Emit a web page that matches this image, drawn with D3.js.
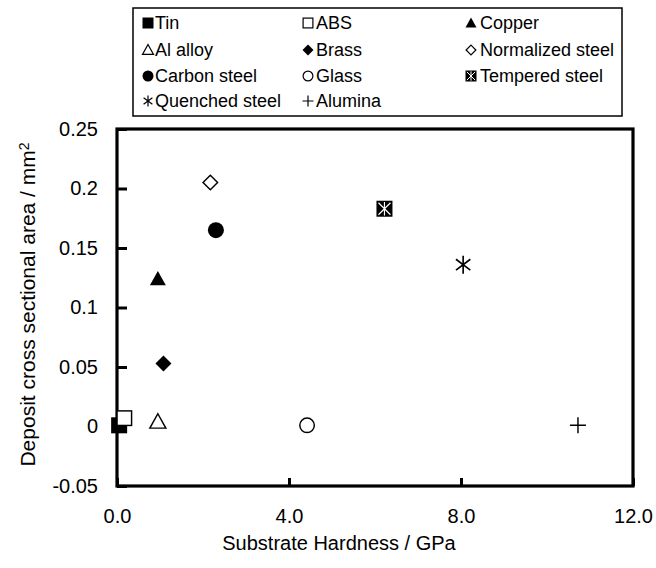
<!DOCTYPE html>
<html>
<head>
<meta charset="utf-8">
<script src="https://cdn.jsdelivr.net/npm/d3@7"></script>
<style>
  html, body { margin: 0; padding: 0; background: #fff; }
  svg { display: block; font-family: "Liberation Sans", Arial, sans-serif; }
</style>
</head>
<body>
<svg id="chart" width="656" height="568"></svg>
<script>
// ---- data ----
const materials = ["Tin", "ABS", "Copper", "Al alloy", "Brass", "Normalized steel",
                   "Carbon steel", "Glass", "Tempered steel", "Quenched steel", "Alumina"];
const hardness  = [0.05, 0.17, 0.95, 0.95, 1.08, 2.17, 2.30, 4.42, 6.22, 8.05, 10.72];
const depositArea = [0.001, 0.007, 0.124, 0.004, 0.053, 0.205, 0.165, 0.001, 0.183, 0.136, 0.001];
const markerKinds = ["squareFill", "squareOpen", "triFill", "triOpen", "diamondFill", "diamondOpen",
                     "circleFill", "circleOpen", "tempered", "asterisk", "plus"];
const legendOrder = ["Tin", "ABS", "Copper", "Al alloy", "Brass", "Normalized steel",
                     "Carbon steel", "Glass", "Tempered steel", "Quenched steel", "Alumina"];
const xTickValues = [0, 4, 8, 12];
const xTickLabels = ["0.0", "4.0", "8.0", "12.0"];
const yTickValues = [-0.05, 0, 0.05, 0.1, 0.15, 0.2, 0.25];
const yTickLabels = ["-0.05", "0", "0.05", "0.1", "0.15", "0.2", "0.25"];
const xTitle = "Substrate Hardness / GPa";

// ---- layout ----
const svg = d3.select("#chart");
const L = 117, R = 633, T = 129, B = 486;
const x = d3.scaleLinear().domain([0, 12]).range([L, R]);
const y = d3.scaleLinear().domain([-0.05, 0.25]).range([B, T]);

// marker drawing
function drawMarker(g, kind, s) {
  const h = s / 2;
  const sw = Math.max(1.2, s / 11);
  switch (kind) {
    case "squareFill":
      g.append("rect").attr("x", -h).attr("y", -h).attr("width", s).attr("height", s).attr("fill", "#000"); break;
    case "squareOpen":
      g.append("rect").attr("x", -h + sw/2).attr("y", -h + sw/2).attr("width", s - sw).attr("height", s - sw)
        .attr("fill", "#fff").attr("stroke", "#000").attr("stroke-width", sw); break;
    case "triFill":
      g.append("path").attr("d", `M0,${-h}L${h},${h*0.8}L${-h},${h*0.8}Z`).attr("fill", "#000"); break;
    case "triOpen":
      g.append("path").attr("d", `M0,${-h}L${h},${h*0.8}L${-h},${h*0.8}Z`).attr("fill", "#fff")
        .attr("stroke", "#000").attr("stroke-width", sw); break;
    case "diamondFill":
      g.append("path").attr("d", `M0,${-h}L${h},0L0,${h}L${-h},0Z`).attr("fill", "#000"); break;
    case "diamondOpen":
      g.append("path").attr("d", `M0,${-h+sw/2}L${h-sw/2},0L0,${h-sw/2}L${-h+sw/2},0Z`).attr("fill", "#fff")
        .attr("stroke", "#000").attr("stroke-width", sw); break;
    case "circleFill":
      g.append("circle").attr("r", h).attr("fill", "#000"); break;
    case "circleOpen":
      g.append("circle").attr("r", h - sw/2).attr("fill", "#fff").attr("stroke", "#000").attr("stroke-width", sw); break;
    case "tempered":
      g.append("rect").attr("x", -h).attr("y", -h).attr("width", s).attr("height", s).attr("fill", "#000");
      g.append("path").attr("d", `M${-h*0.75},${-h*0.75}L${h*0.75},${h*0.75}M${h*0.75},${-h*0.75}L${-h*0.75},${h*0.75}M0,${-h*0.85}L0,${h*0.85}`)
        .attr("stroke", "#fff").attr("stroke-width", Math.max(1, s / 14)); break;
    case "asterisk":
      g.append("path").attr("d", `M0,${-h}L0,${h}M${-h*0.8},${-h*0.6}L${h*0.8},${h*0.6}M${h*0.8},${-h*0.6}L${-h*0.8},${h*0.6}`)
        .attr("stroke", "#000").attr("stroke-width", sw).attr("fill", "none"); break;
    case "plus":
      g.append("path").attr("d", `M0,${-h}L0,${h}M${-h},0L${h},0`)
        .attr("stroke", "#000").attr("stroke-width", sw).attr("fill", "none"); break;
  }
}

// ---- legend ----
const legBox = { x: 133, y: 8, w: 489, h: 108 };
svg.append("rect").attr("x", legBox.x).attr("y", legBox.y).attr("width", legBox.w).attr("height", legBox.h)
  .attr("fill", "#fff").attr("stroke", "#000").attr("stroke-width", 1.5);
const colMarkerX = [148, 308, 471];
const colTextX = [155, 316, 480];
const rowY = [23, 50, 76, 101];
legendOrder.forEach((name, i) => {
  const col = i % 3, row = Math.floor(i / 3);
  const k = materials.indexOf(name);
  const g = svg.append("g").attr("transform", `translate(${colMarkerX[col]},${rowY[row]})`);
  drawMarker(g, markerKinds[k], 11);
  svg.append("text").attr("x", colTextX[col]).attr("y", rowY[row]).attr("dy", "0.35em")
    .attr("font-size", 18).attr("fill", "#000").text(name);
});

// ---- axes ----
const yAxis = d3.axisLeft(y).tickValues(yTickValues)
  .tickFormat((d, i) => yTickLabels[i]).tickSizeInner(-10).tickSizeOuter(0).tickPadding(19);
const gy = svg.append("g").attr("transform", `translate(${L},0)`).call(yAxis);
gy.select(".domain").remove();
gy.selectAll(".tick line").attr("stroke", "#000").attr("stroke-width", 3);
gy.selectAll(".tick text").attr("font-size", 20).attr("fill", "#000")
  .attr("font-family", '"Liberation Sans", Arial, sans-serif');

const xAxis = d3.axisBottom(x).tickValues(xTickValues)
  .tickFormat((d, i) => xTickLabels[i]).tickSizeInner(-8).tickSizeOuter(0).tickPadding(23);
const gx = svg.append("g").attr("transform", `translate(0,${B})`).call(xAxis);
gx.select(".domain").remove();
gx.selectAll(".tick line").attr("stroke", "#000").attr("stroke-width", 3);
gx.selectAll(".tick text").attr("font-size", 20).attr("fill", "#000")
  .attr("font-family", '"Liberation Sans", Arial, sans-serif');

// frame
svg.append("rect").attr("x", L).attr("y", T).attr("width", R - L).attr("height", B - T)
  .attr("fill", "none").attr("stroke", "#000").attr("stroke-width", 3.2);

// axis titles
svg.append("text").attr("x", (L + R) / 2 - 36).attr("y", 550).attr("text-anchor", "middle")
  .attr("font-size", 20).attr("fill", "#000").text(xTitle);
const yt = svg.append("text").attr("transform", `translate(35,${(T + B) / 2 - 3}) rotate(-90)`)
  .attr("text-anchor", "middle").attr("font-size", 21).attr("fill", "#000");
yt.append("tspan").text("Deposit cross sectional area / mm");
yt.append("tspan").attr("dy", "-0.45em").attr("font-size", 14).text("2");

// ---- points ----
materials.forEach((name, i) => {
  const g = svg.append("g").attr("class", "pt")
    .attr("transform", `translate(${x(hardness[i])},${y(depositArea[i])})`);
  drawMarker(g, markerKinds[i], markerKinds[i] === "asterisk" ? 18 : 16);
});
</script>
</body>
</html>
